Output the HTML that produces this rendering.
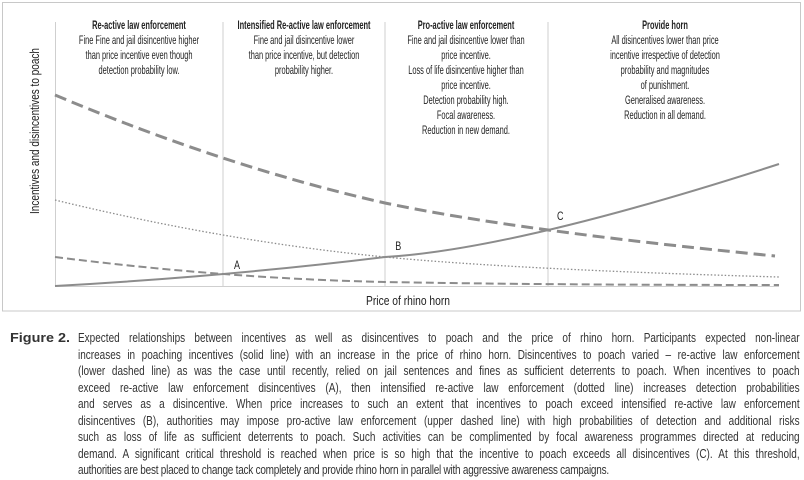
<!DOCTYPE html>
<html><head><meta charset="utf-8"><style>
html,body{margin:0;padding:0;background:#fff;width:804px;height:480px;overflow:hidden;position:relative}
svg{display:block}
.h{font-family:"Liberation Sans",sans-serif;font-size:12px;fill:#222;text-anchor:middle}
.b{font-weight:bold}
.cap{position:absolute;left:78px;top:330px;width:902px;transform:scaleX(0.8);transform-origin:0 0;font-family:"Liberation Sans",sans-serif;font-size:12.5px;line-height:16.5px;color:#333}
.cap div{white-space:nowrap;text-align:justify;text-align-last:justify}
.cap div.l{text-align:left;text-align-last:left;letter-spacing:-0.3px}
</style></head><body>
<svg width="804" height="480" viewBox="0 0 804 480" xmlns="http://www.w3.org/2000/svg">
<rect x="2.5" y="2.5" width="798" height="308.5" fill="#fff" stroke="#c8c8c8" stroke-width="1"/>
<g stroke="#cfcfcf" stroke-width="1">
<line x1="223" y1="22" x2="223" y2="286"/>
<line x1="385" y1="22" x2="385" y2="286"/>
<line x1="548" y1="22" x2="548" y2="286"/>
<line x1="55.5" y1="22" x2="55.5" y2="286"/>
<line x1="55" y1="286.5" x2="779" y2="286.5"/>
</g>
<g fill="none" stroke="#8c8c8c">
<path d="M55,95 Q226,167 385,203 Q516,230.5 775,256" stroke-width="3" stroke-dasharray="12,6"/>
<path d="M55,200 Q226,241.5 385,257 Q514.5,269.5 779,277" stroke-width="1.3" stroke-dasharray="1.5,2"/>
<path d="M55,257 Q226,278.5 385,282 Q550,285 779,285" stroke-width="2" stroke-dasharray="8,4"/>
<path d="M55,286 Q226,276.5 385,257 Q514.5,249.5 779,164" stroke-width="2"/>
</g>
<g transform="scale(0.75,1)" class="h" style="font-size:12px">
<text x="316" y="269">A</text>
<text x="531" y="250">B</text>
<text x="747" y="220">C</text>
</g>
<text class="h" x="408" y="305" textLength="84" lengthAdjust="spacingAndGlyphs" style="font-size:13px">Price of rhino horn</text>
<text class="h" transform="translate(39,131) rotate(-90)" textLength="166" lengthAdjust="spacingAndGlyphs" style="font-size:13px">Incentives and disincentives to poach</text>

<g transform="translate(139,0) scale(0.62,1)" class="h">
<text class="b" y="29">Re-active law enforcement</text>
<text y="44">Fine Fine and jail disincentive higher</text>
<text y="59">than price incentive even though</text>
<text y="74">detection probability low.</text>
</g>
<g transform="translate(304,0) scale(0.62,1)" class="h">
<text class="b" y="29">Intensified Re-active law enforcement</text>
<text y="44">Fine and jail disincentive lower</text>
<text y="59">than price incentive, but detection</text>
<text y="74">probability higher.</text>
</g>
<g transform="translate(466,0) scale(0.62,1)" class="h">
<text class="b" y="29">Pro-active law enforcement</text>
<text y="44">Fine and jail disincentive lower than</text>
<text y="59">price incentive.</text>
<text y="74">Loss of life disincentive higher than</text>
<text y="89">price incentive.</text>
<text y="104">Detection probability high.</text>
<text y="119">Focal awareness.</text>
<text y="134">Reduction in new demand.</text>
</g>
<g transform="translate(665,0) scale(0.62,1)" class="h">
<text class="b" y="29">Provide horn</text>
<text y="44">All disincentives lower than price</text>
<text y="59">incentive irrespective of detection</text>
<text y="74">probability and magnitudes</text>
<text y="89">of punishment.</text>
<text y="104">Generalised awareness.</text>
<text y="119">Reduction in all demand.</text>
</g>
<text x="10" y="342" font-family="Liberation Sans, sans-serif" font-size="13" font-weight="bold" fill="#333" textLength="60" lengthAdjust="spacingAndGlyphs">Figure 2.</text>
</svg>
<div class="cap">
<div>Expected relationships between incentives as well as disincentives to poach and the price of rhino horn. Participants expected non-linear</div>
<div>increases in poaching incentives (solid line) with an increase in the price of rhino horn. Disincentives to poach varied – re-active law enforcement</div>
<div>(lower dashed line) as was the case until recently, relied on jail sentences and fines as sufficient deterrents to poach. When incentives to poach</div>
<div>exceed re-active law enforcement disincentives (A), then intensified re-active law enforcement (dotted line) increases detection probabilities</div>
<div>and serves as a disincentive. When price increases to such an extent that incentives to poach exceed intensified re-active law enforcement</div>
<div>disincentives (B), authorities may impose pro-active law enforcement (upper dashed line) with high probabilities of detection and additional risks</div>
<div>such as loss of life as sufficient deterrents to poach. Such activities can be complimented by focal awareness programmes directed at reducing</div>
<div>demand. A significant critical threshold is reached when price is so high that the incentive to poach exceeds all disincentives (C). At this threshold,</div>
<div class="l">authorities are best placed to change tack completely and provide rhino horn in parallel with aggressive awareness campaigns.</div>
</div>
</body></html>
